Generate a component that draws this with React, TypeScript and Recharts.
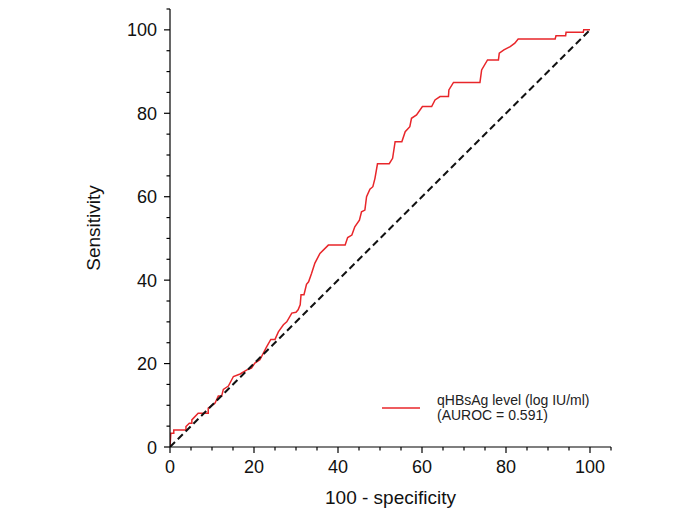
import { LineChart, Line, XAxis, YAxis } from "recharts";

// ROC curve points (100 - specificity, sensitivity)
const fpr = [
  0, 0.2, 0.9, 0.9, 3.8, 3.8, 4.6, 5.2, 5.2, 6.7, 9.1, 9.1, 10.7, 11.5, 12.3, 12.7,
  13.9, 15.1, 16.7, 18.3, 19.4, 20.2, 21.4, 23.0, 24.0, 25.0, 25.8, 27.0, 27.8, 29.0,
  30.0, 30.5, 31.0, 31.2, 31.9, 32.5, 33.0, 33.7, 34.5, 35.7, 37.7, 41.7, 42.3, 43.3,
  44.0, 45.1, 45.6, 46.4, 46.8, 47.6, 48.3, 48.8, 49.4, 52.2, 53.0, 53.6, 55.2, 56.0,
  57.1, 57.5, 58.7, 60.1, 62.3, 63.1, 64.3, 66.3, 66.4, 67.5, 73.8, 74.2, 75.6, 78.2,
  78.4, 79.5, 81.0, 82.1, 82.9, 91.7, 91.9, 94.2, 94.3, 98.4, 98.5, 100,
];
const tpr = [
  0, 3.3, 3.3, 4.1, 4.1, 4.9, 5.7, 5.7, 6.5, 8.1, 8.1, 9.3, 10.5, 12.2, 12.2, 13.8,
  14.6, 16.9, 17.5, 18.5, 18.9, 20.1, 20.9, 24.0, 25.8, 25.8, 27.6, 29.3, 30.0, 32.1,
  32.3, 32.9, 34.1, 36.5, 36.5, 39.0, 39.6, 41.6, 44.1, 46.4, 48.4, 48.4, 50.2, 50.8,
  52.8, 54.4, 56.4, 56.8, 60.0, 61.8, 62.4, 64.4, 67.9, 67.9, 69.2, 73.2, 73.2, 75.6,
  76.8, 78.8, 79.6, 81.6, 81.6, 83.2, 84.0, 84.0, 85.6, 87.4, 87.4, 90.4, 92.8, 92.8,
  94.4, 95.2, 96.0, 96.8, 97.8, 97.8, 98.6, 98.6, 99.4, 99.4, 100, 100,
];
const refX = [0, 100];
const refY = [0, 100];

const ticks = [0, 5, 10, 15, 20, 25, 30, 35, 40, 45, 50, 55, 60, 65, 70, 75, 80, 85, 90, 95, 100, 105];

const roc = fpr.map((x, i) => ({ x, y: tpr[i] }));
const diag = refX.map((x, i) => ({ x, y: refY[i] }));

const FONT = '"Liberation Sans", Arial, sans-serif';
const RED = "#e8262a";

const isMajor = (v: number) => v % 20 === 0 && v <= 100;

const YTick = (props: any) => {
  const { x, y, payload } = props;
  const major = isMajor(payload.value);
  return (
    <g>
      <line x1={x} x2={x - (major ? 6 : 3.5)} y1={y} y2={y} stroke="#000" strokeWidth={1.2} />
      {major && (
        <text x={x - 13} y={y + 6.5} textAnchor="end" fontSize={18} fill="#111" fontFamily={FONT}>
          {payload.value}
        </text>
      )}
    </g>
  );
};

const XTick = (props: any) => {
  const { x, y, payload } = props;
  const major = isMajor(payload.value);
  return (
    <g>
      <line x1={x} x2={x} y1={y} y2={y + (major ? 6 : 3.5)} stroke="#000" strokeWidth={1.2} />
      {major && (
        <text x={x} y={y + 25.5} textAnchor="middle" fontSize={18} fill="#111" fontFamily={FONT}>
          {payload.value}
        </text>
      )}
    </g>
  );
};

export default function App() {
  return (
    <div style={{ position: "absolute", left: 0, top: 0, width: 692, height: 518, background: "#fff" }}>
      <LineChart
        width={692}
        height={518}
        margin={{ top: 9, right: 81, left: 88, bottom: 11 }}
        style={{ fontFamily: FONT }}
      >
        <XAxis
          type="number"
          dataKey="x"
          domain={[0, 105]}
          ticks={ticks}
          interval={0}
          allowDataOverflow
          height={60}
          tickSize={0}
          tickMargin={0}
          tick={<XTick />}
          axisLine={{ stroke: "#000", strokeWidth: 1.2 }}
          label={{ value: "100 - specificity", position: "insideBottom", offset: 3, fontSize: 19, fill: "#111" }}
        />
        <YAxis
          type="number"
          domain={[0, 105]}
          ticks={ticks}
          interval={0}
          allowDataOverflow
          width={82}
          tickSize={0}
          tickMargin={0}
          tick={<YTick />}
          axisLine={{ stroke: "#000", strokeWidth: 1.2 }}
          label={{
            value: "Sensitivity",
            angle: -90,
            position: "insideLeft",
            offset: 5,
            fontSize: 19,
            fill: "#111",
            style: { textAnchor: "middle" },
          }}
        />
        <Line
          data={roc}
          dataKey="y"
          type="linear"
          stroke={RED}
          strokeWidth={1.5}
          dot={false}
          isAnimationActive={false}
        />
        <Line
          data={diag}
          dataKey="y"
          type="linear"
          stroke="#111"
          strokeWidth={2}
          strokeDasharray="7 4"
          dot={false}
          isAnimationActive={false}
        />
      </LineChart>
      <div
        style={{
          position: "absolute",
          left: 382,
          top: 393,
          display: "flex",
          alignItems: "center",
          fontFamily: FONT,
          fontSize: 14,
          lineHeight: "15px",
          color: "#222",
          whiteSpace: "nowrap",
        }}
      >
        <svg width={38} height={4} style={{ marginRight: 17 }}>
          <line x1={0} x2={38} y1={2} y2={2} stroke={RED} strokeWidth={1.5} />
        </svg>
        <div>
          <div>qHBsAg level (log IU/ml)</div>
          <div>(AUROC = 0.591)</div>
        </div>
      </div>
    </div>
  );
}
